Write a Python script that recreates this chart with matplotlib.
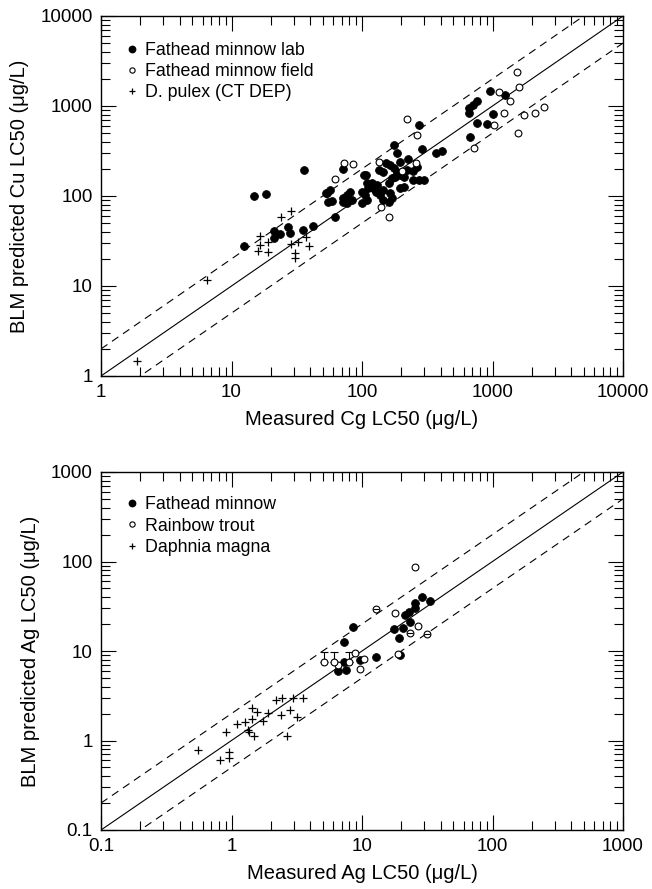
import matplotlib
matplotlib.use("Agg")
import matplotlib.pyplot as plt
import numpy as np
from matplotlib.lines import Line2D

plt.rcParams['font.family'] = ['Liberation Sans', 'DejaVu Sans']

# ---------------- Cu data ----------------
cu_lab_x = [15, 18.5, 36, 12.5, 21, 21, 23.5, 27, 28, 35, 42, 54, 55,
            177, 185, 288, 371, 410, 227, 196, 153, 165, 72, 136, 146, 175, 185,
            196, 180, 264, 248, 271, 296, 221, 208, 103, 170, 160, 130, 122, 119,
            128, 109, 112, 100, 106, 109, 81, 77, 72, 79, 72, 84, 77, 57, 53, 59,
            100, 138, 146, 165, 170, 160, 196, 208, 146, 62, 244, 107,
            950, 1239, 760, 708, 656, 656, 1002, 760, 907, 667, 271]
cu_lab_y = [100, 105, 195, 28, 41, 34, 38, 45, 39, 42, 46, 108, 86,
            369, 303, 333, 303, 319, 256, 240, 231, 223, 198, 194, 186, 203, 186,
            171, 164, 212, 151, 151, 151, 194, 164, 171, 157, 138, 132, 122, 138,
            112, 138, 122, 112, 103, 90, 112, 103, 94, 90, 86, 90, 83, 117, 109, 89,
            83, 103, 90, 107, 94, 86, 122, 127, 117, 58, 191, 171,
            1468, 1324, 1136, 1026, 942, 843, 815, 641, 631, 456, 615]

cu_field_x = [264, 73, 85, 62, 136, 202, 140, 162, 260, 221, 1542, 1585, 1114,
              1370, 1217, 1733, 2104, 2466, 1032, 1559, 716]
cu_field_y = [480, 234, 227, 153, 237, 191, 76, 58, 234, 711, 2404, 1614, 1442,
              1145, 830, 794, 830, 967, 615, 506, 339]

cu_pulex_x = [24, 28.5, 16.5, 16.5, 19, 16, 19, 28.5, 32.5, 37, 39, 30.5, 30.5, 6.5, 1.9]
cu_pulex_y = [59, 68, 36, 28.5, 30.5, 24.5, 24, 29, 31, 35, 28, 23, 20.5, 11.7, 1.45]

# ---------------- Ag data ----------------
ag_fhm_x = [8.5, 7.3, 17.5, 20.6, 19.1, 23.5, 21.5, 22.9, 25.7, 25.7, 28.6, 33.1,
            12.9, 19.5, 9.6, 6.5, 7.5, 7.3]
ag_fhm_y = [18.4, 12.5, 17.5, 18.2, 13.9, 21.2, 25.2, 27.5, 30, 34.1, 39.8, 36.2,
            8.6, 9.0, 7.9, 6.0, 6.1, 7.6]

# rainbow trout: plain, struck-through and lower-bound (capped) values
ag_trout_x = [17.9, 25.3, 26.9, 19, 6.6, 8.8, 10.3, 9.6]
ag_trout_y = [26.7, 86, 19, 9.2, 7.0, 9.4, 8.2, 6.3]
ag_trout_bar_x = [12.7, 23.2, 31.5]
ag_trout_bar_y = [29.1, 15.8, 15.4]
ag_trout_cap_x = [5.15, 6.1, 7.9]
ag_trout_cap_y = [7.5, 7.5, 7.5]

ag_daph_x = [0.557, 0.817, 0.96, 0.96, 0.91, 1.1, 1.27, 1.33, 1.35, 1.49, 1.43, 1.43,
             1.57, 1.73, 1.92, 2.19, 2.44, 2.39, 2.64, 2.8, 2.97, 3.15, 3.56]
ag_daph_y = [0.78, 0.605, 0.75, 0.63, 1.25, 1.53, 1.62, 1.31, 1.25, 1.12, 2.28, 1.76,
             2.06, 1.66, 2.04, 2.87, 2.95, 1.93, 1.12, 2.22, 2.95, 1.82, 2.95]

cu_ticks = [1, 10, 100, 1000, 10000]
ag_ticks = [0.1, 1, 10, 100, 1000]

fig = plt.figure(figsize=(6.52, 8.89), dpi=100)
ax1 = fig.add_axes([101 / 652, 1 - 376 / 889, 522 / 652, 360 / 889])
ax2 = fig.add_axes([101 / 652, 1 - 830 / 889, 522 / 652, 358 / 889])

filled = dict(marker='o', ms=5.6, mfc='black', mec='black', ls='none', mew=0.6)
hollow = dict(marker='o', ms=4.9, mfc='white', mec='black', ls='none', mew=0.8)
cross = dict(marker='+', ms=5.4, color='black', ls='none', mew=0.9)


def style_axes(ax, ticks, xlabel, ylabel):
    lo, hi = ticks[0], ticks[-1]
    ax.set_xscale('log')
    ax.set_yscale('log')
    ax.set_xlim(lo, hi)
    ax.set_ylim(lo, hi)
    xs = np.array([lo, hi])
    ax.plot(xs, xs, color='black', lw=0.8, zorder=1)
    ax.plot(xs, 2 * xs, color='black', lw=0.8, ls=(0, (7, 5)), zorder=1)
    ax.plot(xs, 0.5 * xs, color='black', lw=0.8, ls=(0, (7, 5)), zorder=1)
    labels = [('%g' % t) for t in ticks]
    ax.set_xticks(ticks)
    ax.set_xticklabels(labels)
    ax.set_yticks(ticks)
    ax.set_yticklabels(labels)
    ax.tick_params(which='both', direction='in', top=True, right=True,
                   labelsize=13.5, width=0.8, pad=6)
    ax.tick_params(which='major', length=11)
    ax.tick_params(which='minor', length=6.5)
    ax.xaxis.set_minor_formatter(matplotlib.ticker.NullFormatter())
    ax.yaxis.set_minor_formatter(matplotlib.ticker.NullFormatter())
    for s in ax.spines.values():
        s.set_linewidth(1.0)
    ax.set_xlabel(xlabel, fontsize=14.5, labelpad=6)
    ax.set_ylabel(ylabel, fontsize=14.5, labelpad=8)


style_axes(ax1, cu_ticks, 'Measured Cg LC50 (\u03bcg/L)', 'BLM predicted Cu LC50 (\u03bcg/L)')
ax1.plot(cu_lab_x, cu_lab_y, zorder=3, **filled)
ax1.plot(cu_field_x, cu_field_y, zorder=3, **hollow)
ax1.plot(cu_pulex_x, cu_pulex_y, zorder=3, **cross)

style_axes(ax2, ag_ticks, 'Measured Ag LC50 (\u03bcg/L)', 'BLM predicted Ag LC50 (\u03bcg/L)')
ax2.plot(ag_fhm_x, ag_fhm_y, zorder=3, **filled)
ax2.plot(ag_trout_x, ag_trout_y, zorder=3, **hollow)
ax2.plot(ag_trout_bar_x, ag_trout_bar_y, zorder=3, **hollow)
ax2.plot(ag_trout_bar_x, ag_trout_bar_y, marker='_', ms=5, mew=0.8, color='black',
         ls='none', zorder=4)
ax2.errorbar(ag_trout_cap_x, ag_trout_cap_y,
             yerr=[np.zeros(len(ag_trout_cap_y)), np.array(ag_trout_cap_y) * 0.3],
             fmt='none', ecolor='black', elinewidth=0.8, capsize=3, capthick=0.8, zorder=2)
ax2.plot(ag_trout_cap_x, ag_trout_cap_y, zorder=3, **hollow)
ax2.plot(ag_daph_x, ag_daph_y, zorder=3, **cross)


def add_legend(ax, labels, anchor):
    handles = [Line2D([], [], marker='o', ms=4.6, mfc='black', mec='black', ls='none'),
               Line2D([], [], marker='o', ms=3.8, mfc='white', mec='black', mew=0.8, ls='none'),
               Line2D([], [], marker='+', ms=5, color='black', mew=0.9, ls='none')]
    ax.legend(handles, labels, loc='upper left', bbox_to_anchor=anchor,
              frameon=False, fontsize=12.8, handlelength=0.6, handletextpad=0.4,
              labelspacing=0.24, borderaxespad=0, borderpad=0)


add_legend(ax1, ['Fathead minnow lab', 'Fathead minnow field', 'D. pulex (CT DEP)'],
           (0.05, 0.928))
add_legend(ax2, ['Fathead minnow', 'Rainbow trout', 'Daphnia magna'],
           (0.05, 0.932))

fig.savefig('out.png', dpi=100)
